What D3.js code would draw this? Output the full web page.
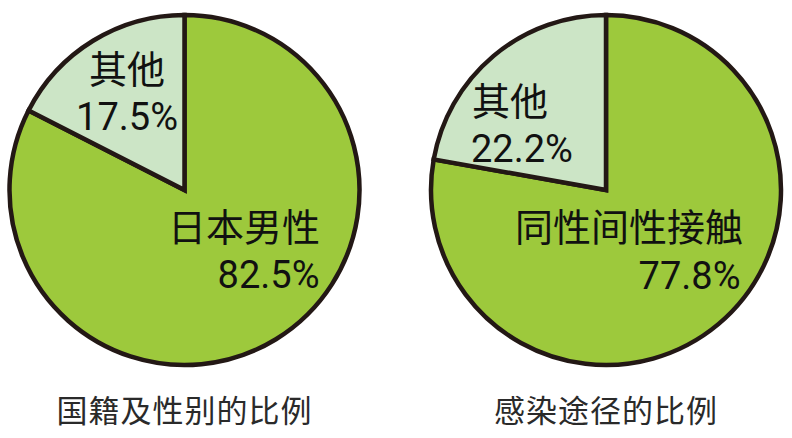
<!DOCTYPE html>
<html><head><meta charset="utf-8">
<script src="https://cdn.jsdelivr.net/npm/d3@7"></script>
<style>
html,body{margin:0;padding:0;background:#fff;}
svg{display:block;}
text{font-family:"Noto Sans CJK SC","Noto Sans CJK JP",sans-serif;}
.num{font-family:Roboto,"Noto Sans CJK SC",sans-serif;}
</style></head>
<body>
<svg id="chart" width="792" height="438"></svg>
<script>
// Data
const chartTitles = ["国籍及性别的比例", "感染途径的比例"];
const nationalityCategories = ["日本男性", "其他"];
const nationalityValues = [82.5, 17.5];
const routeCategories = ["同性间性接触", "其他"];
const routeValues = [77.8, 22.2];

const colors = ["#9dc93c", "#cce5c6"];
const strokeColor = "#231815";

const svg = d3.select("#chart");
const R = 175;

const charts = [
  {title: chartTitles[0], cats: nationalityCategories, vals: nationalityValues,
   cx: 184.5, cy: 190,
   labels: [ {anchor:"end", x1: 135.5, x2: 135, y1: 51, y2: 98},
             {anchor:"middle", x1: -57.5, x2: -57.5, y1: -107, y2: -60} ]},
  {title: chartTitles[1], cats: routeCategories, vals: routeValues,
   cx: 606, cy: 190,
   labels: [ {anchor:"end", x1: 137, x2: 134.5, y1: 51, y2: 99},
             {anchor:"start", x1: -134, x2: -135, y1: -75, y2: -28} ]}
];

const pie = d3.pie().sort(null).value(d => d.value).startAngle(0).endAngle(2*Math.PI);
const arc = d3.arc().innerRadius(0).outerRadius(R);
const fmt = d3.format(".1f");

charts.forEach(c => {
  const data = c.cats.map((k,i) => ({name:k, value:c.vals[i]}));
  const g = svg.append("g").attr("transform", `translate(${c.cx},${c.cy})`);
  g.selectAll("path").data(pie(data)).join("path")
    .attr("d", arc)
    .attr("fill", (d,i) => colors[i])
    .attr("stroke", strokeColor)
    .attr("stroke-width", 4.5)
    .attr("stroke-linejoin", "miter");

  data.forEach((d,i) => {
    const L = c.labels[i];
    g.append("text")
      .attr("x", L.x1).attr("y", L.y1)
      .attr("text-anchor", L.anchor)
      .attr("fill", "#111")
      .attr("font-size", 38)
      .text(d.name);
    g.append("text")
      .attr("class", "num")
      .attr("x", L.x2).attr("y", L.y2)
      .attr("text-anchor", L.anchor)
      .attr("fill", "#111")
      .attr("font-size", 38)
      .text(fmt(d.value) + "%");
  });

  svg.append("text")
    .attr("x", c.cx).attr("y", 422)
    .attr("text-anchor", "middle")
    .attr("font-size", 31)
    .attr("letter-spacing", 1)
    .attr("fill", "#2a2a2a")
    .text(c.title);
});
</script>
</body></html>
